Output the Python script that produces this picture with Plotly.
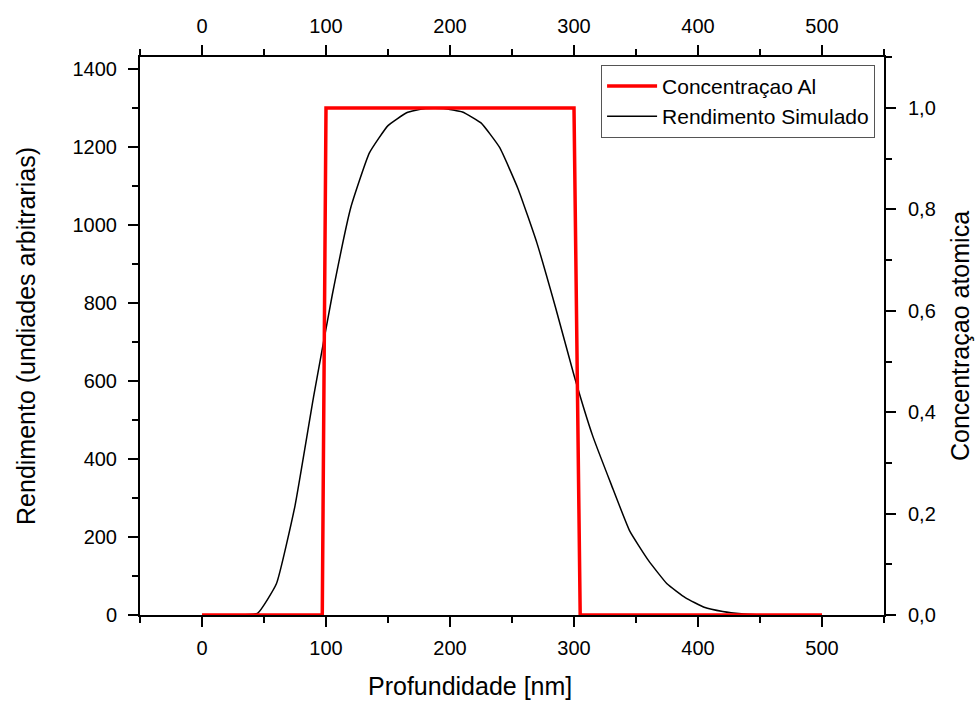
import plotly.graph_objects as go

# Data
depth_sim = [30, 45, 60, 75, 90, 105, 120, 135, 150, 165, 180, 195, 210, 225, 240,
             255, 270, 285, 300, 315, 330, 345, 360, 375, 390, 405, 420, 435, 450]
yield_sim = [0, 5, 80, 280, 560, 820, 1045, 1185, 1255, 1288, 1299, 1299, 1290, 1262, 1199,
             1092, 955, 790, 615, 460, 335, 215, 140, 80, 44, 20, 9, 3, 0]

depth_al = [0, 97, 100, 300, 305, 500]
conc_al = [0, 0, 1.0, 1.0, 0, 0]

left_ticks = [0, 200, 400, 600, 800, 1000, 1200, 1400]
right_ticks = [0.0, 0.2, 0.4, 0.6, 0.8, 1.0]
right_ticklabels = ["0,0", "0,2", "0,4", "0,6", "0,8", "1,0"]
x_ticks = [0, 100, 200, 300, 400, 500]

FONT = "Liberation Sans, Arial, sans-serif"
TICK = 20
TITLE = 25

fig = go.Figure()
fig.add_trace(go.Scatter(x=depth_al, y=conc_al, mode="lines", name="Concentraçao Al",
                         line=dict(color="#ff0000", width=3.5), xaxis="x", yaxis="y2"))
fig.add_trace(go.Scatter(x=depth_sim, y=yield_sim, mode="lines", name="Rendimento Simulado",
                         line=dict(color="black", width=1.5, shape="spline", smoothing=0.4),
                         xaxis="x", yaxis="y"))
# invisible trace so the top axis renders
fig.add_trace(go.Scatter(x=[0, 500], y=[0, 0], mode="lines", showlegend=False,
                         line=dict(width=0), opacity=0, hoverinfo="skip",
                         xaxis="x2", yaxis="y"))

axis_common = dict(showgrid=False, zeroline=False, showline=True, linecolor="black",
                   linewidth=2, ticks="outside", ticklen=10, tickwidth=2, tickcolor="black",
                   automargin=False,
                   tickfont=dict(family=FONT, size=TICK, color="black"))
minor_common = dict(ticks="outside", ticklen=6, tickwidth=2, tickcolor="black")

fig.update_layout(
    width=978, height=702,
    margin=dict(l=140, r=94, t=57, b=87),
    paper_bgcolor="white", plot_bgcolor="white",
    font=dict(family=FONT, color="black"),
    showlegend=True,
    legend=dict(x=0.988, y=0.986, xanchor="right", yanchor="top",
                bgcolor="white", bordercolor="#555555", borderwidth=1,
                font=dict(family=FONT, size=21, color="black"),
                tracegroupgap=0, itemwidth=50),
    xaxis=dict(range=[-50, 550], tickvals=x_ticks, ticklabelstandoff=4,
               minor=dict(dtick=50, **minor_common),
               **axis_common),
    xaxis2=dict(range=[-50, 550], tickvals=x_ticks, overlaying="x", side="top", anchor="y",
                ticklabelstandoff=4,
                minor=dict(dtick=50, **minor_common),
                **axis_common),
    yaxis=dict(range=[0, 1431], tickvals=left_ticks, ticklabelstandoff=7,
               minor=dict(dtick=100, **minor_common),
               title=dict(text="Rendimento (undiades arbitrarias)", font=dict(family=FONT, size=TITLE), standoff=30),
               **axis_common),
    yaxis2=dict(range=[0, 1431 / 1300], tickvals=right_ticks, ticktext=right_ticklabels,
                overlaying="y", side="right", anchor="x", ticklabelstandoff=8,
                minor=dict(dtick=0.1, **minor_common),
                title=dict(text="Concentraçao atomica", font=dict(family=FONT, size=TITLE), standoff=17),
                **axis_common),
    annotations=[dict(text="Profundidade [nm]", xref="paper", yref="paper",
                      x=0.4435, y=-0.127, xanchor="center", yanchor="middle",
                      showarrow=False, font=dict(family=FONT, size=TITLE, color="black"))],
)

fig.write_html("out.html")
